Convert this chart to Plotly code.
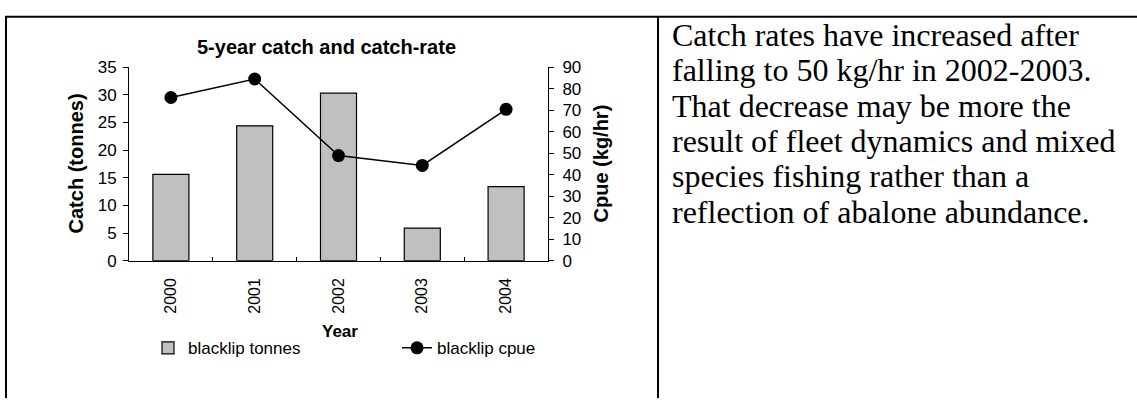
import plotly.graph_objects as go

years = ["2000", "2001", "2002", "2003", "2004"]
tonnes = [15.6, 24.4, 30.3, 5.9, 13.4]
cpue = [75.9, 84.5, 48.9, 44.3, 70.4]
text_lines = [
    "Catch rates have increased after",
    "falling to 50 kg/hr in 2002-2003.",
    "That decrease may be more the",
    "result of fleet dynamics and mixed",
    "species fishing rather than a",
    "reflection of abalone abundance.",
]

W, H = 1137, 408
def px(x):
    return x / W
def py(y):
    return 1 - y / H

SANS = "Liberation Sans, Arial, sans-serif"
SERIF = "Liberation Serif, Times New Roman, serif"

fig = go.Figure()
fig.add_trace(go.Bar(
    x=years, y=tonnes, name="blacklip tonnes",
    marker=dict(color="#c0c0c0", line=dict(color="black", width=1.2)),
    yaxis="y",
))
fig.add_trace(go.Scatter(
    x=years, y=cpue, name="blacklip cpue", mode="lines+markers",
    line=dict(color="black", width=1.5),
    marker=dict(color="black", size=13),
    yaxis="y2",
))

x0, x1 = 129, 548
ytop, ybot = 61, 264
TICK = 17

fig.update_layout(
    width=W, height=H,
    margin=dict(l=0, r=0, t=0, b=0),
    paper_bgcolor="white", plot_bgcolor="white",
    bargap=0.57,
    showlegend=True,
    legend=dict(orientation="h", x=px(148), y=py(337), xanchor="left", yanchor="top",
                font=dict(family=SANS, size=17, color="black"),
                entrywidth=204, entrywidthmode="pixels",
                bgcolor="rgba(0,0,0,0)", itemclick=False),
    xaxis=dict(domain=[px(x0), px(x1)], type="category",
               showline=True, linecolor="black", linewidth=1,
               ticks="inside", tickson="boundaries", ticklen=4, tickcolor="black",
               tickangle=-90, ticklabelstandoff=10,
               tickfont=dict(family=SANS, size=16, color="black"),
               showgrid=False, zeroline=False),
    yaxis=dict(domain=[py(ybot), py(ytop)], range=[0, 35], dtick=5,
               showline=True, linecolor="black", linewidth=1,
               ticks="outside", ticklen=5, tickcolor="black", ticklabelstandoff=3,
               tickfont=dict(family=SANS, size=TICK, color="black"),
               showgrid=False, zeroline=False),
    yaxis2=dict(domain=[py(ybot), py(ytop)], range=[0, 90], dtick=10,
                overlaying="y", side="right", anchor="x",
                showline=True, linecolor="black", linewidth=1,
                ticks="outside", ticklen=5, tickcolor="black", ticklabelstandoff=5,
                tickfont=dict(family=SANS, size=TICK, color="black"),
                showgrid=False, zeroline=False),
)

ann = []
ann.append(dict(text="<b>5-year catch and catch-rate</b>", x=px(326), y=py(40),
                font=dict(family=SANS, size=20, color="black")))
ann.append(dict(text="<b>Catch (tonnes)</b>", x=px(76), y=py(162), textangle=-90,
                font=dict(family=SANS, size=20, color="black")))
ann.append(dict(text="<b>Cpue (kg/hr)</b>", x=px(601), y=py(162), textangle=-90,
                font=dict(family=SANS, size=20, color="black")))
ann.append(dict(text="<b>Year</b>", x=px(340), y=py(338),
                font=dict(family=SANS, size=17, color="black")))
for a in ann:
    a.update(xref="paper", yref="paper", showarrow=False, xanchor="center", yanchor="middle")

base0, step = 27.5, 37.0
for i, line in enumerate(text_lines):
    ann.append(dict(text=line, xref="paper", yref="paper", showarrow=False,
                    x=px(670), y=py(base0 + i * step), xanchor="left", yanchor="middle",
                    font=dict(family=SERIF, size=32, color="black")))
fig.update_layout(annotations=ann)

# table borders
shapes = [
    dict(type="line", xref="paper", yref="paper", x0=px(5), x1=1, y0=py(8), y1=py(8),
         line=dict(color="black", width=2)),
    dict(type="line", xref="paper", yref="paper", x0=px(6), x1=px(6), y0=py(8), y1=0,
         line=dict(color="black", width=2)),
    dict(type="line", xref="paper", yref="paper", x0=px(658), x1=px(658), y0=py(8), y1=0,
         line=dict(color="black", width=2)),
]
fig.update_layout(shapes=shapes)

fig.write_html("out.html", config={"displayModeBar": False},
               post_script="document.body.style.margin='0';document.body.style.overflow='hidden';")
